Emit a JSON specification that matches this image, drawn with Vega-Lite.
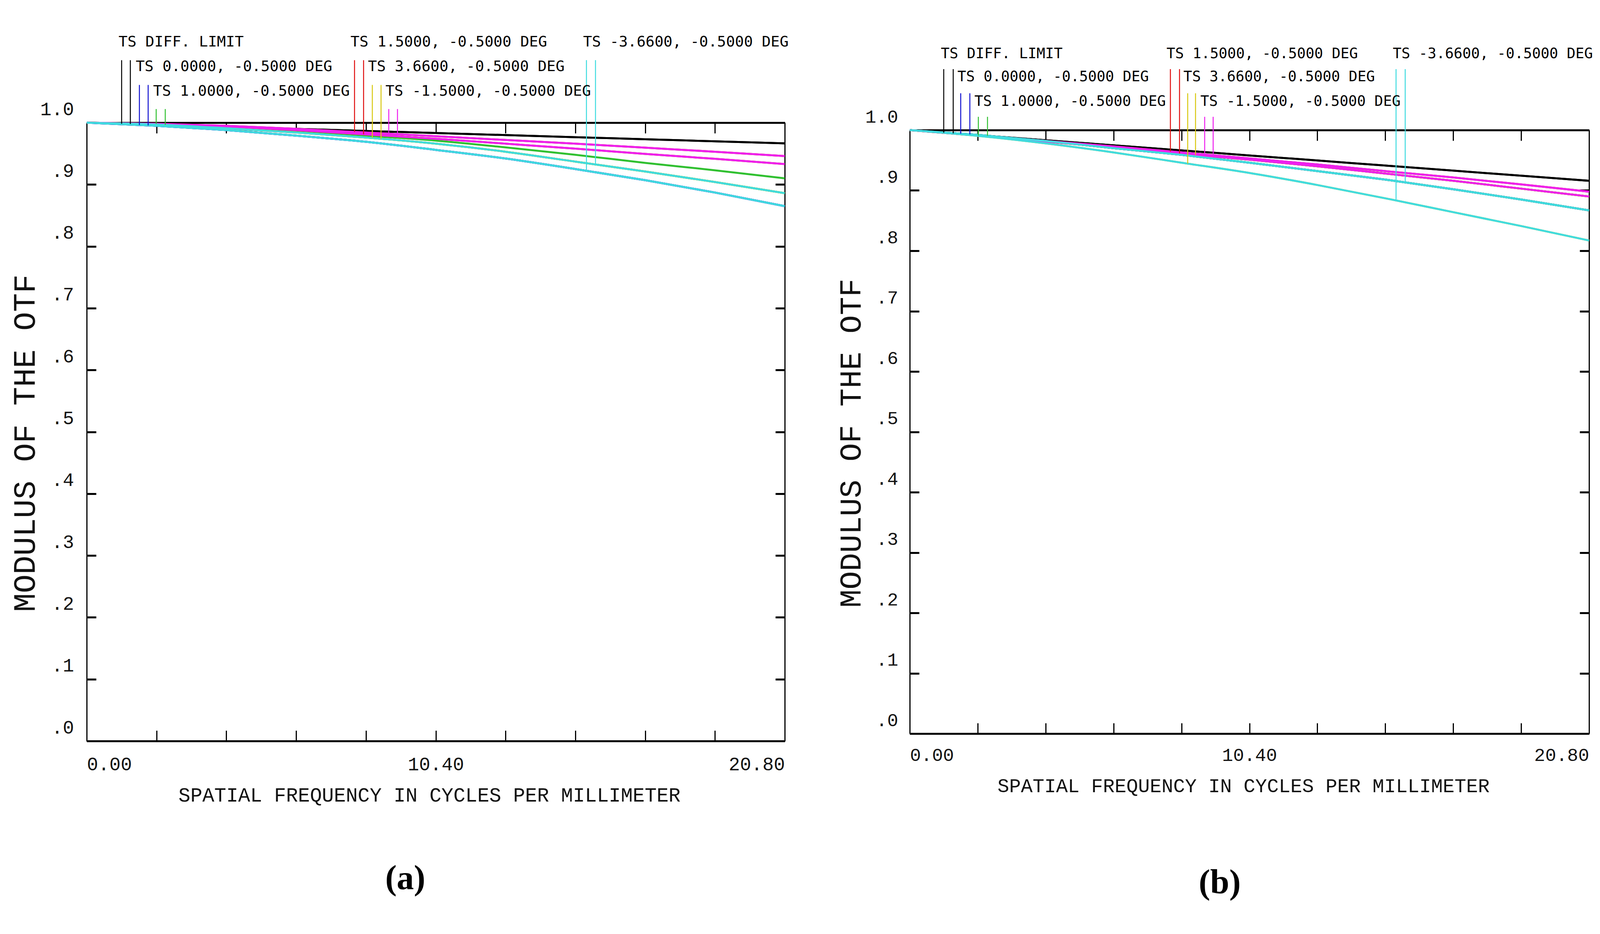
{
  "$schema": "https://vega.github.io/schema/vega-lite/v6.json",
  "background": "white",
  "padding": {"left": 24, "top": 88, "right": 0, "bottom": 20},
  "config": {"view": {"stroke": null}},
  "datasets": {
    "curvesA": [
      {"s":"1DT","c":"k","f":0,"m":1},{"s":"1DT","c":"k","f":2.08,"m":0.9966},{"s":"1DT","c":"k","f":4.16,"m":0.9933},{"s":"1DT","c":"k","f":6.24,"m":0.9899},{"s":"1DT","c":"k","f":8.32,"m":0.9866},{"s":"1DT","c":"k","f":10.4,"m":0.9832},{"s":"1DT","c":"k","f":12.48,"m":0.9799},{"s":"1DT","c":"k","f":14.56,"m":0.9765},{"s":"1DT","c":"k","f":16.64,"m":0.9732},{"s":"1DT","c":"k","f":18.72,"m":0.9698},{"s":"1DT","c":"k","f":20.8,"m":0.9665},
      {"s":"1DS","c":"k","f":0,"m":1},{"s":"1DS","c":"k","f":2.08,"m":0.9966},{"s":"1DS","c":"k","f":4.16,"m":0.9933},{"s":"1DS","c":"k","f":6.24,"m":0.9899},{"s":"1DS","c":"k","f":8.32,"m":0.9866},{"s":"1DS","c":"k","f":10.4,"m":0.9832},{"s":"1DS","c":"k","f":12.48,"m":0.9799},{"s":"1DS","c":"k","f":14.56,"m":0.9765},{"s":"1DS","c":"k","f":16.64,"m":0.9732},{"s":"1DS","c":"k","f":18.72,"m":0.9698},{"s":"1DS","c":"k","f":20.8,"m":0.9665},
      {"s":"2BT","c":"b","f":0,"m":1},{"s":"2BT","c":"b","f":2.08,"m":0.995},{"s":"2BT","c":"b","f":4.16,"m":0.988},{"s":"2BT","c":"b","f":6.24,"m":0.979},{"s":"2BT","c":"b","f":8.32,"m":0.969},{"s":"2BT","c":"b","f":10.4,"m":0.956},{"s":"2BT","c":"b","f":12.48,"m":0.942},{"s":"2BT","c":"b","f":14.56,"m":0.925},{"s":"2BT","c":"b","f":16.64,"m":0.907},{"s":"2BT","c":"b","f":18.72,"m":0.887},{"s":"2BT","c":"b","f":20.8,"m":0.865},
      {"s":"2BS","c":"b","f":0,"m":1},{"s":"2BS","c":"b","f":2.08,"m":0.995},{"s":"2BS","c":"b","f":4.16,"m":0.988},{"s":"2BS","c":"b","f":6.24,"m":0.979},{"s":"2BS","c":"b","f":8.32,"m":0.969},{"s":"2BS","c":"b","f":10.4,"m":0.956},{"s":"2BS","c":"b","f":12.48,"m":0.942},{"s":"2BS","c":"b","f":14.56,"m":0.925},{"s":"2BS","c":"b","f":16.64,"m":0.907},{"s":"2BS","c":"b","f":18.72,"m":0.887},{"s":"2BS","c":"b","f":20.8,"m":0.865},
      {"s":"3GT","c":"g","f":0,"m":1},{"s":"3GT","c":"g","f":2.08,"m":0.998},{"s":"3GT","c":"g","f":4.16,"m":0.993},{"s":"3GT","c":"g","f":6.24,"m":0.987},{"s":"3GT","c":"g","f":8.32,"m":0.979},{"s":"3GT","c":"g","f":10.4,"m":0.971},{"s":"3GT","c":"g","f":12.48,"m":0.96},{"s":"3GT","c":"g","f":14.56,"m":0.948},{"s":"3GT","c":"g","f":16.64,"m":0.935},{"s":"3GT","c":"g","f":18.72,"m":0.923},{"s":"3GT","c":"g","f":20.8,"m":0.91},
      {"s":"3GS","c":"g","f":0,"m":1},{"s":"3GS","c":"g","f":2.08,"m":0.997},{"s":"3GS","c":"g","f":4.16,"m":0.991},{"s":"3GS","c":"g","f":6.24,"m":0.984},{"s":"3GS","c":"g","f":8.32,"m":0.976},{"s":"3GS","c":"g","f":10.4,"m":0.966},{"s":"3GS","c":"g","f":12.48,"m":0.953},{"s":"3GS","c":"g","f":14.56,"m":0.937},{"s":"3GS","c":"g","f":16.64,"m":0.921},{"s":"3GS","c":"g","f":18.72,"m":0.904},{"s":"3GS","c":"g","f":20.8,"m":0.886},
      {"s":"4RT","c":"r","f":0,"m":1},{"s":"4RT","c":"r","f":2.08,"m":0.998},{"s":"4RT","c":"r","f":4.16,"m":0.995},{"s":"4RT","c":"r","f":6.24,"m":0.99},{"s":"4RT","c":"r","f":8.32,"m":0.984},{"s":"4RT","c":"r","f":10.4,"m":0.978},{"s":"4RT","c":"r","f":12.48,"m":0.972},{"s":"4RT","c":"r","f":14.56,"m":0.966},{"s":"4RT","c":"r","f":16.64,"m":0.9595},{"s":"4RT","c":"r","f":18.72,"m":0.953},{"s":"4RT","c":"r","f":20.8,"m":0.946},
      {"s":"4RS","c":"r","f":0,"m":1},{"s":"4RS","c":"r","f":2.08,"m":0.998},{"s":"4RS","c":"r","f":4.16,"m":0.994},{"s":"4RS","c":"r","f":6.24,"m":0.988},{"s":"4RS","c":"r","f":8.32,"m":0.981},{"s":"4RS","c":"r","f":10.4,"m":0.974},{"s":"4RS","c":"r","f":12.48,"m":0.966},{"s":"4RS","c":"r","f":14.56,"m":0.958},{"s":"4RS","c":"r","f":16.64,"m":0.9495},{"s":"4RS","c":"r","f":18.72,"m":0.9415},{"s":"4RS","c":"r","f":20.8,"m":0.933},
      {"s":"5YT","c":"y","f":0,"m":1},{"s":"5YT","c":"y","f":2.08,"m":0.997},{"s":"5YT","c":"y","f":4.16,"m":0.991},{"s":"5YT","c":"y","f":6.24,"m":0.984},{"s":"5YT","c":"y","f":8.32,"m":0.976},{"s":"5YT","c":"y","f":10.4,"m":0.966},{"s":"5YT","c":"y","f":12.48,"m":0.953},{"s":"5YT","c":"y","f":14.56,"m":0.937},{"s":"5YT","c":"y","f":16.64,"m":0.921},{"s":"5YT","c":"y","f":18.72,"m":0.904},{"s":"5YT","c":"y","f":20.8,"m":0.886},
      {"s":"5YS","c":"y","f":0,"m":1},{"s":"5YS","c":"y","f":2.08,"m":0.997},{"s":"5YS","c":"y","f":4.16,"m":0.991},{"s":"5YS","c":"y","f":6.24,"m":0.984},{"s":"5YS","c":"y","f":8.32,"m":0.976},{"s":"5YS","c":"y","f":10.4,"m":0.966},{"s":"5YS","c":"y","f":12.48,"m":0.953},{"s":"5YS","c":"y","f":14.56,"m":0.937},{"s":"5YS","c":"y","f":16.64,"m":0.921},{"s":"5YS","c":"y","f":18.72,"m":0.904},{"s":"5YS","c":"y","f":20.8,"m":0.886},
      {"s":"6MT","c":"m","f":0,"m":1},{"s":"6MT","c":"m","f":2.08,"m":0.998},{"s":"6MT","c":"m","f":4.16,"m":0.995},{"s":"6MT","c":"m","f":6.24,"m":0.99},{"s":"6MT","c":"m","f":8.32,"m":0.984},{"s":"6MT","c":"m","f":10.4,"m":0.978},{"s":"6MT","c":"m","f":12.48,"m":0.972},{"s":"6MT","c":"m","f":14.56,"m":0.966},{"s":"6MT","c":"m","f":16.64,"m":0.9595},{"s":"6MT","c":"m","f":18.72,"m":0.953},{"s":"6MT","c":"m","f":20.8,"m":0.946},
      {"s":"6MS","c":"m","f":0,"m":1},{"s":"6MS","c":"m","f":2.08,"m":0.998},{"s":"6MS","c":"m","f":4.16,"m":0.994},{"s":"6MS","c":"m","f":6.24,"m":0.988},{"s":"6MS","c":"m","f":8.32,"m":0.981},{"s":"6MS","c":"m","f":10.4,"m":0.974},{"s":"6MS","c":"m","f":12.48,"m":0.966},{"s":"6MS","c":"m","f":14.56,"m":0.958},{"s":"6MS","c":"m","f":16.64,"m":0.9495},{"s":"6MS","c":"m","f":18.72,"m":0.9415},{"s":"6MS","c":"m","f":20.8,"m":0.933},
      {"s":"7CT","c":"c","f":0,"m":1},{"s":"7CT","c":"c","f":2.08,"m":0.997},{"s":"7CT","c":"c","f":4.16,"m":0.991},{"s":"7CT","c":"c","f":6.24,"m":0.984},{"s":"7CT","c":"c","f":8.32,"m":0.976},{"s":"7CT","c":"c","f":10.4,"m":0.966},{"s":"7CT","c":"c","f":12.48,"m":0.953},{"s":"7CT","c":"c","f":14.56,"m":0.937},{"s":"7CT","c":"c","f":16.64,"m":0.921},{"s":"7CT","c":"c","f":18.72,"m":0.904},{"s":"7CT","c":"c","f":20.8,"m":0.886},
      {"s":"7CS","c":"c","f":0,"m":1},{"s":"7CS","c":"c","f":2.08,"m":0.995},{"s":"7CS","c":"c","f":4.16,"m":0.988},{"s":"7CS","c":"c","f":6.24,"m":0.979},{"s":"7CS","c":"c","f":8.32,"m":0.969},{"s":"7CS","c":"c","f":10.4,"m":0.956},{"s":"7CS","c":"c","f":12.48,"m":0.942},{"s":"7CS","c":"c","f":14.56,"m":0.925},{"s":"7CS","c":"c","f":16.64,"m":0.907},{"s":"7CS","c":"c","f":18.72,"m":0.887},{"s":"7CS","c":"c","f":20.8,"m":0.865}
    ],
    "curvesB": [
      {"s":"1DT","c":"k","f":0,"m":1},{"s":"1DT","c":"k","f":2.08,"m":0.9916},{"s":"1DT","c":"k","f":4.16,"m":0.9832},{"s":"1DT","c":"k","f":6.24,"m":0.9748},{"s":"1DT","c":"k","f":8.32,"m":0.9664},{"s":"1DT","c":"k","f":10.4,"m":0.958},{"s":"1DT","c":"k","f":12.48,"m":0.9496},{"s":"1DT","c":"k","f":14.56,"m":0.9412},{"s":"1DT","c":"k","f":16.64,"m":0.9328},{"s":"1DT","c":"k","f":18.72,"m":0.9244},{"s":"1DT","c":"k","f":20.8,"m":0.916},
      {"s":"1DS","c":"k","f":0,"m":1},{"s":"1DS","c":"k","f":2.08,"m":0.9916},{"s":"1DS","c":"k","f":4.16,"m":0.9832},{"s":"1DS","c":"k","f":6.24,"m":0.9748},{"s":"1DS","c":"k","f":8.32,"m":0.9664},{"s":"1DS","c":"k","f":10.4,"m":0.958},{"s":"1DS","c":"k","f":12.48,"m":0.9496},{"s":"1DS","c":"k","f":14.56,"m":0.9412},{"s":"1DS","c":"k","f":16.64,"m":0.9328},{"s":"1DS","c":"k","f":18.72,"m":0.9244},{"s":"1DS","c":"k","f":20.8,"m":0.916},
      {"s":"2BT","c":"b","f":0,"m":1},{"s":"2BT","c":"b","f":2.08,"m":0.992},{"s":"2BT","c":"b","f":4.16,"m":0.982},{"s":"2BT","c":"b","f":6.24,"m":0.97},{"s":"2BT","c":"b","f":8.32,"m":0.959},{"s":"2BT","c":"b","f":10.4,"m":0.946},{"s":"2BT","c":"b","f":12.48,"m":0.932},{"s":"2BT","c":"b","f":14.56,"m":0.918},{"s":"2BT","c":"b","f":16.64,"m":0.902},{"s":"2BT","c":"b","f":18.72,"m":0.885},{"s":"2BT","c":"b","f":20.8,"m":0.867},
      {"s":"2BS","c":"b","f":0,"m":1},{"s":"2BS","c":"b","f":2.08,"m":0.992},{"s":"2BS","c":"b","f":4.16,"m":0.982},{"s":"2BS","c":"b","f":6.24,"m":0.97},{"s":"2BS","c":"b","f":8.32,"m":0.959},{"s":"2BS","c":"b","f":10.4,"m":0.946},{"s":"2BS","c":"b","f":12.48,"m":0.932},{"s":"2BS","c":"b","f":14.56,"m":0.918},{"s":"2BS","c":"b","f":16.64,"m":0.902},{"s":"2BS","c":"b","f":18.72,"m":0.885},{"s":"2BS","c":"b","f":20.8,"m":0.867},
      {"s":"3GT","c":"g","f":0,"m":1},{"s":"3GT","c":"g","f":2.08,"m":0.991},{"s":"3GT","c":"g","f":4.16,"m":0.981},{"s":"3GT","c":"g","f":6.24,"m":0.971},{"s":"3GT","c":"g","f":8.32,"m":0.961},{"s":"3GT","c":"g","f":10.4,"m":0.951},{"s":"3GT","c":"g","f":12.48,"m":0.94},{"s":"3GT","c":"g","f":14.56,"m":0.928},{"s":"3GT","c":"g","f":16.64,"m":0.916},{"s":"3GT","c":"g","f":18.72,"m":0.903},{"s":"3GT","c":"g","f":20.8,"m":0.89},
      {"s":"3GS","c":"g","f":0,"m":1},{"s":"3GS","c":"g","f":2.08,"m":0.992},{"s":"3GS","c":"g","f":4.16,"m":0.982},{"s":"3GS","c":"g","f":6.24,"m":0.97},{"s":"3GS","c":"g","f":8.32,"m":0.959},{"s":"3GS","c":"g","f":10.4,"m":0.946},{"s":"3GS","c":"g","f":12.48,"m":0.932},{"s":"3GS","c":"g","f":14.56,"m":0.918},{"s":"3GS","c":"g","f":16.64,"m":0.902},{"s":"3GS","c":"g","f":18.72,"m":0.885},{"s":"3GS","c":"g","f":20.8,"m":0.867},
      {"s":"4RT","c":"r","f":0,"m":1},{"s":"4RT","c":"r","f":2.08,"m":0.9915},{"s":"4RT","c":"r","f":4.16,"m":0.982},{"s":"4RT","c":"r","f":6.24,"m":0.973},{"s":"4RT","c":"r","f":8.32,"m":0.963},{"s":"4RT","c":"r","f":10.4,"m":0.953},{"s":"4RT","c":"r","f":12.48,"m":0.943},{"s":"4RT","c":"r","f":14.56,"m":0.932},{"s":"4RT","c":"r","f":16.64,"m":0.9215},{"s":"4RT","c":"r","f":18.72,"m":0.91},{"s":"4RT","c":"r","f":20.8,"m":0.898},
      {"s":"4RS","c":"r","f":0,"m":1},{"s":"4RS","c":"r","f":2.08,"m":0.991},{"s":"4RS","c":"r","f":4.16,"m":0.981},{"s":"4RS","c":"r","f":6.24,"m":0.971},{"s":"4RS","c":"r","f":8.32,"m":0.961},{"s":"4RS","c":"r","f":10.4,"m":0.951},{"s":"4RS","c":"r","f":12.48,"m":0.94},{"s":"4RS","c":"r","f":14.56,"m":0.928},{"s":"4RS","c":"r","f":16.64,"m":0.916},{"s":"4RS","c":"r","f":18.72,"m":0.903},{"s":"4RS","c":"r","f":20.8,"m":0.89},
      {"s":"5YT","c":"y","f":0,"m":1},{"s":"5YT","c":"y","f":2.08,"m":0.991},{"s":"5YT","c":"y","f":4.16,"m":0.981},{"s":"5YT","c":"y","f":6.24,"m":0.971},{"s":"5YT","c":"y","f":8.32,"m":0.961},{"s":"5YT","c":"y","f":10.4,"m":0.951},{"s":"5YT","c":"y","f":12.48,"m":0.94},{"s":"5YT","c":"y","f":14.56,"m":0.928},{"s":"5YT","c":"y","f":16.64,"m":0.916},{"s":"5YT","c":"y","f":18.72,"m":0.903},{"s":"5YT","c":"y","f":20.8,"m":0.89},
      {"s":"5YS","c":"y","f":0,"m":1},{"s":"5YS","c":"y","f":2.08,"m":0.9905},{"s":"5YS","c":"y","f":4.16,"m":0.978},{"s":"5YS","c":"y","f":6.24,"m":0.963},{"s":"5YS","c":"y","f":8.32,"m":0.946},{"s":"5YS","c":"y","f":10.4,"m":0.929},{"s":"5YS","c":"y","f":12.48,"m":0.909},{"s":"5YS","c":"y","f":14.56,"m":0.887},{"s":"5YS","c":"y","f":16.64,"m":0.864},{"s":"5YS","c":"y","f":18.72,"m":0.841},{"s":"5YS","c":"y","f":20.8,"m":0.817},
      {"s":"6MT","c":"m","f":0,"m":1},{"s":"6MT","c":"m","f":2.08,"m":0.9915},{"s":"6MT","c":"m","f":4.16,"m":0.982},{"s":"6MT","c":"m","f":6.24,"m":0.973},{"s":"6MT","c":"m","f":8.32,"m":0.963},{"s":"6MT","c":"m","f":10.4,"m":0.953},{"s":"6MT","c":"m","f":12.48,"m":0.943},{"s":"6MT","c":"m","f":14.56,"m":0.932},{"s":"6MT","c":"m","f":16.64,"m":0.9215},{"s":"6MT","c":"m","f":18.72,"m":0.91},{"s":"6MT","c":"m","f":20.8,"m":0.898},
      {"s":"6MS","c":"m","f":0,"m":1},{"s":"6MS","c":"m","f":2.08,"m":0.991},{"s":"6MS","c":"m","f":4.16,"m":0.981},{"s":"6MS","c":"m","f":6.24,"m":0.971},{"s":"6MS","c":"m","f":8.32,"m":0.961},{"s":"6MS","c":"m","f":10.4,"m":0.951},{"s":"6MS","c":"m","f":12.48,"m":0.94},{"s":"6MS","c":"m","f":14.56,"m":0.928},{"s":"6MS","c":"m","f":16.64,"m":0.916},{"s":"6MS","c":"m","f":18.72,"m":0.903},{"s":"6MS","c":"m","f":20.8,"m":0.89},
      {"s":"7CT","c":"c","f":0,"m":1},{"s":"7CT","c":"c","f":2.08,"m":0.992},{"s":"7CT","c":"c","f":4.16,"m":0.982},{"s":"7CT","c":"c","f":6.24,"m":0.97},{"s":"7CT","c":"c","f":8.32,"m":0.959},{"s":"7CT","c":"c","f":10.4,"m":0.946},{"s":"7CT","c":"c","f":12.48,"m":0.932},{"s":"7CT","c":"c","f":14.56,"m":0.918},{"s":"7CT","c":"c","f":16.64,"m":0.902},{"s":"7CT","c":"c","f":18.72,"m":0.885},{"s":"7CT","c":"c","f":20.8,"m":0.867},
      {"s":"7CS","c":"c","f":0,"m":1},{"s":"7CS","c":"c","f":2.08,"m":0.9905},{"s":"7CS","c":"c","f":4.16,"m":0.978},{"s":"7CS","c":"c","f":6.24,"m":0.963},{"s":"7CS","c":"c","f":8.32,"m":0.946},{"s":"7CS","c":"c","f":10.4,"m":0.929},{"s":"7CS","c":"c","f":12.48,"m":0.909},{"s":"7CS","c":"c","f":14.56,"m":0.887},{"s":"7CS","c":"c","f":16.64,"m":0.864},{"s":"7CS","c":"c","f":18.72,"m":0.841},{"s":"7CS","c":"c","f":20.8,"m":0.817}
    ],
    "markersA": [
      {"c":"k","f":1.04,"m":0.9983,"top":1.101},{"c":"k","f":1.3,"m":0.9979,"top":1.101},
      {"c":"b","f":1.57,"m":0.9962,"top":1.061},{"c":"b","f":1.83,"m":0.9956,"top":1.061},
      {"c":"g","f":2.07,"m":0.998,"top":1.022},{"c":"g","f":2.34,"m":0.9963,"top":1.022},
      {"c":"r","f":7.98,"m":0.985,"top":1.101},{"c":"r","f":8.25,"m":0.9812,"top":1.101},
      {"c":"y","f":8.51,"m":0.9751,"top":1.061},{"c":"y","f":8.77,"m":0.9736,"top":1.061},
      {"c":"m","f":9.0,"m":0.982,"top":1.022},{"c":"m","f":9.26,"m":0.9778,"top":1.022},
      {"c":"c","f":14.89,"m":0.9221,"top":1.101},{"c":"c","f":15.16,"m":0.9324,"top":1.101}
    ],
    "markersB": [
      {"c":"k","f":1.04,"m":0.9958,"top":1.101},{"c":"k","f":1.33,"m":0.9946,"top":1.101},
      {"c":"b","f":1.56,"m":0.994,"top":1.061},{"c":"b","f":1.84,"m":0.9929,"top":1.061},
      {"c":"g","f":2.1,"m":0.991,"top":1.022},{"c":"g","f":2.38,"m":0.9906,"top":1.022},
      {"c":"r","f":7.98,"m":0.9646,"top":1.101},{"c":"r","f":8.26,"m":0.9613,"top":1.101},
      {"c":"y","f":8.51,"m":0.9444,"top":1.061},{"c":"y","f":8.75,"m":0.9589,"top":1.061},
      {"c":"m","f":9.03,"m":0.9596,"top":1.022},{"c":"m","f":9.29,"m":0.9563,"top":1.022},
      {"c":"c","f":14.89,"m":0.883,"top":1.101},{"c":"c","f":15.17,"m":0.9133,"top":1.101}
    ],
    "labelsA": [
      {"f":0.95,"m":1.1232,"t":"TS DIFF. LIMIT"},
      {"f":7.86,"m":1.1232,"t":"TS 1.5000, -0.5000 DEG"},
      {"f":14.79,"m":1.1232,"t":"TS -3.6600, -0.5000 DEG"},
      {"f":1.46,"m":1.0834,"t":"TS 0.0000, -0.5000 DEG"},
      {"f":8.38,"m":1.0834,"t":"TS 3.6600, -0.5000 DEG"},
      {"f":1.98,"m":1.0436,"t":"TS 1.0000, -0.5000 DEG"},
      {"f":8.9,"m":1.0436,"t":"TS -1.5000, -0.5000 DEG"}
    ],
    "labelsB": [
      {"f":0.95,"m":1.1191,"t":"TS DIFF. LIMIT"},
      {"f":7.86,"m":1.1191,"t":"TS 1.5000, -0.5000 DEG"},
      {"f":14.79,"m":1.1191,"t":"TS -3.6600, -0.5000 DEG"},
      {"f":1.46,"m":1.0809,"t":"TS 0.0000, -0.5000 DEG"},
      {"f":8.38,"m":1.0809,"t":"TS 3.6600, -0.5000 DEG"},
      {"f":1.98,"m":1.0401,"t":"TS 1.0000, -0.5000 DEG"},
      {"f":8.9,"m":1.0401,"t":"TS -1.5000, -0.5000 DEG"}
    ]
  },
  "spacing": 320,
  "bounds": "flush",
  "center": true,
  "hconcat": [
    {
      "width": 1787,
      "height": 1583,
      "title": {"text": "(a)", "orient": "bottom", "anchor": "middle", "dx": -78, "offset": 145, "font": "Liberation Serif", "fontSize": 88, "fontWeight": "bold", "color": "#000"},
      "resolve": {"axis": {"x": "independent", "y": "independent"}},
      "layer": [
        {
          "data": {"name": "curvesA"},
          "mark": {"type": "line", "strokeWidth": 5, "interpolate": "monotone"},
          "encoding": {
            "x": {"field": "f", "type": "quantitative", "scale": {"domain": [0, 20.8], "nice": false, "zero": false},
              "axis": {"orient": "bottom", "values": [0, 2.08, 4.16, 6.24, 8.32, 10.4, 12.48, 14.56, 16.64, 18.72, 20.8],
                "labelExpr": "datum.value == 0 || datum.value == 10.4 || datum.value == 20.8 ? format(datum.value, '.2f') : ''",
                "labelFlush": true, "labelLimit": 0, "labelFont": "Liberation Mono", "labelFontSize": 48, "labelColor": "#111", "labelBaseline": "alphabetic", "labelPadding": 101,
                "tickSize": -27, "tickWidth": 3, "tickColor": "#000", "domainWidth": 5, "domainColor": "#000", "grid": false,
                "title": "SPATIAL FREQUENCY IN CYCLES PER MILLIMETER", "titleFont": "Liberation Mono", "titleFontSize": 51, "titleFontWeight": "normal", "titleColor": "#111", "titleBaseline": "alphabetic", "titleX": 877, "titleY": 154, "titleLimit": 0}},
            "y": {"field": "m", "type": "quantitative", "scale": {"domain": [0, 1], "nice": false},
              "axis": {"orient": "left", "values": [0, 0.1, 0.2, 0.3, 0.4, 0.5, 0.6, 0.7, 0.8, 0.9, 1],
                "labelExpr": "replace(format(datum.value, '.1f'), '0.', '.')",
                "labelLimit": 0, "labelFont": "Liberation Mono", "labelFontSize": 48, "labelColor": "#111", "labelBaseline": "alphabetic", "labelOffset": -20, "labelPadding": 57,
                "tickSize": -24, "tickWidth": 5, "tickColor": "#000", "domainWidth": 3, "domainColor": "#000", "grid": false,
                "title": "MODULUS OF THE OTF", "titleFont": "Liberation Mono", "titleFontSize": 80, "titleFontWeight": "normal", "titleColor": "#111", "titleBaseline": "middle", "titleX": -158, "titleY": 820, "titleLimit": 0}},
            "color": {"field": "c", "type": "nominal", "scale": {"domain": ["k", "b", "g", "r", "y", "m", "c"], "range": ["#000000", "#1010d0", "#30c030", "#e01010", "#d8c810", "#ee20ee", "#40dce0"]}, "legend": null},
            "detail": {"field": "s"}
          }
        },
        {
          "data": {"name": "markersA"},
          "mark": {"type": "rule", "strokeWidth": 2.5},
          "encoding": {
            "x": {"field": "f", "type": "quantitative", "scale": {"domain": [0, 20.8], "nice": false, "zero": false},
              "axis": {"orient": "top", "values": [0, 2.08, 4.16, 6.24, 8.32, 10.4, 12.48, 14.56, 16.64, 18.72, 20.8], "labels": false, "tickSize": -27, "tickWidth": 3, "tickColor": "#000", "domainWidth": 5, "domainColor": "#000", "grid": false, "title": null}},
            "y": {"field": "m", "type": "quantitative", "scale": {"domain": [0, 1], "nice": false},
              "axis": {"orient": "right", "values": [0, 0.1, 0.2, 0.3, 0.4, 0.5, 0.6, 0.7, 0.8, 0.9, 1], "labels": false, "tickSize": -24, "tickWidth": 5, "tickColor": "#000", "domainWidth": 3, "domainColor": "#000", "grid": false, "title": null}},
            "y2": {"field": "top"},
            "color": {"field": "c", "type": "nominal", "scale": {"domain": ["k", "b", "g", "r", "y", "m", "c"], "range": ["#000000", "#1010d0", "#30c030", "#e01010", "#d8c810", "#ee20ee", "#40dce0"]}, "legend": null}
          }
        },
        {
          "data": {"name": "labelsA"},
          "mark": {"type": "text", "align": "left", "baseline": "alphabetic", "font": "DejaVu Sans Mono", "fontSize": 38, "color": "#000"},
          "encoding": {
            "x": {"field": "f", "type": "quantitative", "scale": {"domain": [0, 20.8], "nice": false, "zero": false}, "axis": null},
            "y": {"field": "m", "type": "quantitative", "scale": {"domain": [0, 1], "nice": false}, "axis": null},
            "text": {"field": "t"}
          }
        }
      ]
    },
    {
      "width": 1739,
      "height": 1545,
      "title": {"text": "(b)", "orient": "bottom", "anchor": "middle", "dx": -76, "offset": 180, "font": "Liberation Serif", "fontSize": 88, "fontWeight": "bold", "color": "#000"},
      "resolve": {"axis": {"x": "independent", "y": "independent"}},
      "layer": [
        {
          "data": {"name": "curvesB"},
          "mark": {"type": "line", "strokeWidth": 5, "interpolate": "monotone"},
          "encoding": {
            "x": {"field": "f", "type": "quantitative", "scale": {"domain": [0, 20.8], "nice": false, "zero": false},
              "axis": {"orient": "bottom", "values": [0, 2.08, 4.16, 6.24, 8.32, 10.4, 12.48, 14.56, 16.64, 18.72, 20.8],
                "labelExpr": "datum.value == 0 || datum.value == 10.4 || datum.value == 20.8 ? format(datum.value, '.2f') : ''",
                "labelFlush": true, "labelLimit": 0, "labelFont": "Liberation Mono", "labelFontSize": 47, "labelColor": "#111", "labelBaseline": "alphabetic", "labelPadding": 96,
                "tickSize": -27, "tickWidth": 3, "tickColor": "#000", "domainWidth": 5, "domainColor": "#000", "grid": false,
                "title": "SPATIAL FREQUENCY IN CYCLES PER MILLIMETER", "titleFont": "Liberation Mono", "titleFontSize": 50, "titleFontWeight": "normal", "titleColor": "#111", "titleBaseline": "alphabetic", "titleX": 854, "titleY": 149, "titleLimit": 0}},
            "y": {"field": "m", "type": "quantitative", "scale": {"domain": [0, 1], "nice": false},
              "axis": {"orient": "left", "values": [0, 0.1, 0.2, 0.3, 0.4, 0.5, 0.6, 0.7, 0.8, 0.9, 1],
                "labelExpr": "replace(format(datum.value, '.1f'), '0.', '.')",
                "labelLimit": 0, "labelFont": "Liberation Mono", "labelFontSize": 47, "labelColor": "#111", "labelBaseline": "alphabetic", "labelOffset": -20, "labelPadding": 54,
                "tickSize": -24, "tickWidth": 5, "tickColor": "#000", "domainWidth": 3, "domainColor": "#000", "grid": false,
                "title": "MODULUS OF THE OTF", "titleFont": "Liberation Mono", "titleFontSize": 78, "titleFontWeight": "normal", "titleColor": "#111", "titleBaseline": "middle", "titleX": -150, "titleY": 801, "titleLimit": 0}},
            "color": {"field": "c", "type": "nominal", "scale": {"domain": ["k", "b", "g", "r", "y", "m", "c"], "range": ["#000000", "#1010d0", "#30c030", "#e01010", "#d8c810", "#ee20ee", "#40dce0"]}, "legend": null},
            "detail": {"field": "s"}
          }
        },
        {
          "data": {"name": "markersB"},
          "mark": {"type": "rule", "strokeWidth": 2.5},
          "encoding": {
            "x": {"field": "f", "type": "quantitative", "scale": {"domain": [0, 20.8], "nice": false, "zero": false},
              "axis": {"orient": "top", "values": [0, 2.08, 4.16, 6.24, 8.32, 10.4, 12.48, 14.56, 16.64, 18.72, 20.8], "labels": false, "tickSize": -27, "tickWidth": 3, "tickColor": "#000", "domainWidth": 5, "domainColor": "#000", "grid": false, "title": null}},
            "y": {"field": "m", "type": "quantitative", "scale": {"domain": [0, 1], "nice": false},
              "axis": {"orient": "right", "values": [0, 0.1, 0.2, 0.3, 0.4, 0.5, 0.6, 0.7, 0.8, 0.9, 1], "labels": false, "tickSize": -24, "tickWidth": 5, "tickColor": "#000", "domainWidth": 3, "domainColor": "#000", "grid": false, "title": null}},
            "y2": {"field": "top"},
            "color": {"field": "c", "type": "nominal", "scale": {"domain": ["k", "b", "g", "r", "y", "m", "c"], "range": ["#000000", "#1010d0", "#30c030", "#e01010", "#d8c810", "#ee20ee", "#40dce0"]}, "legend": null}
          }
        },
        {
          "data": {"name": "labelsB"},
          "mark": {"type": "text", "align": "left", "baseline": "alphabetic", "font": "DejaVu Sans Mono", "fontSize": 37, "color": "#000"},
          "encoding": {
            "x": {"field": "f", "type": "quantitative", "scale": {"domain": [0, 20.8], "nice": false, "zero": false}, "axis": null},
            "y": {"field": "m", "type": "quantitative", "scale": {"domain": [0, 1], "nice": false}, "axis": null},
            "text": {"field": "t"}
          }
        }
      ]
    }
  ]
}
